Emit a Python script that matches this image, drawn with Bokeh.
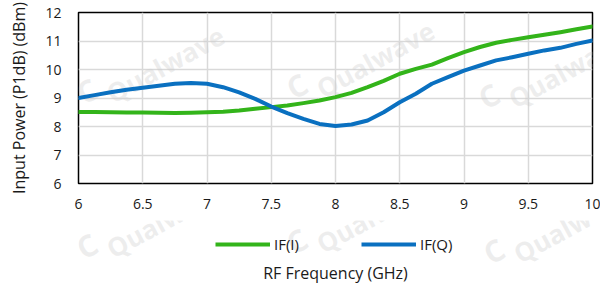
from bokeh.plotting import figure
from bokeh.models import Range1d, FixedTicker, Legend, LegendItem, Label
from bokeh.layouts import column
from bokeh.embed import file_html
from bokeh.resources import INLINE

freq = [6, 6.125, 6.25, 6.375, 6.5, 6.625, 6.75, 6.875, 7, 7.125, 7.25, 7.375, 7.5, 7.625,
        7.75, 7.875, 8, 8.125, 8.25, 8.375, 8.5, 8.625, 8.75, 8.875, 9, 9.125, 9.25, 9.375,
        9.5, 9.625, 9.75, 9.875, 10]
if_i = [8.51, 8.51, 8.5, 8.49, 8.49, 8.48, 8.47, 8.48, 8.5, 8.52, 8.56, 8.62, 8.68, 8.74,
        8.82, 8.91, 9.03, 9.18, 9.38, 9.6, 9.85, 10.02, 10.17, 10.4, 10.61, 10.79, 10.94, 11.04,
        11.13, 11.22, 11.31, 11.41, 11.51]
if_q = [9.0, 9.1, 9.2, 9.29, 9.36, 9.43, 9.5, 9.53, 9.5, 9.38, 9.2, 8.97, 8.7, 8.47,
        8.27, 8.09, 8.02, 8.07, 8.21, 8.5, 8.85, 9.15, 9.5, 9.73, 9.96, 10.14, 10.32, 10.43,
        10.55, 10.67, 10.76, 10.9, 11.02]
x_ticks = [6, 6.5, 7, 7.5, 8, 8.5, 9, 9.5, 10]
x_tick_labels = ["6", "6.5", "7", "7.5", "8", "8.5", "9", "9.5", "10"]
y_ticks = [6, 7, 8, 9, 10, 11, 12]
series_names = ["IF(I)", "IF(Q)"]
x_title = "RF Frequency (GHz)"
y_title = "Input Power (P1dB) (dBm)"

FONT = "Open Sans"
TXT = "#1a1a1a"
GREEN = "#33B41A"
BLUE = "#0A70C0"
W = 600
H1 = 220
H2 = 71

p = figure(width=W, height=H1, output_backend="svg", toolbar_location=None,
           x_range=Range1d(6, 10), y_range=Range1d(6, 12),
           min_border_left=78, min_border_right=8, min_border_top=12, min_border_bottom=37)
p.background_fill_color = "white"
p.border_fill_color = "white"
p.outline_line_color = "black"
p.outline_line_width = 1.5

for ax in (p.xaxis[0], p.yaxis[0]):
    ax.axis_line_color = None
    ax.major_tick_line_color = None
    ax.minor_tick_line_color = None
    ax.major_label_text_font = FONT
    ax.major_label_text_font_size = "14px"
    ax.major_label_text_color = TXT
    ax.axis_label_text_font = FONT
    ax.axis_label_text_font_size = "16px"
    ax.axis_label_text_font_style = "normal"
    ax.axis_label_text_color = TXT

p.xaxis.ticker = FixedTicker(ticks=x_ticks)
p.xaxis.major_label_overrides = {t: s for t, s in zip(x_ticks, x_tick_labels)}
p.yaxis.ticker = FixedTicker(ticks=y_ticks)
p.xaxis.major_label_standoff = 9
p.yaxis.major_label_standoff = 11
p.yaxis.axis_label = y_title
p.yaxis.axis_label_standoff = 12

p.xgrid.grid_line_color = "#d9d9d9"
p.ygrid.grid_line_color = "#d9d9d9"
p.xgrid.grid_line_width = 1.5
p.ygrid.grid_line_width = 1.5


def watermark(fig, x, y, sx):
    # x, y: logo position in fig data coords; sx: data units per pixel along x
    fig.add_layout(Label(x=x + 20 * sx, y=y, text="Qualwave", angle=0.5,
                         text_font=FONT, text_font_size="26px", text_font_style="bold",
                         text_color="#cccccc", text_alpha=0.35, text_baseline="middle",
                         level="underlay"))
    fig.add_layout(Label(x=x - 10 * sx, y=y, text="C", angle=0.5,
                         text_font=FONT, text_font_size="30px", text_font_style="bold",
                         text_color="#cccccc", text_alpha=0.35, text_baseline="middle",
                         level="underlay"))


for lx, ly in [(88, 95), (298, 90), (490, 100)]:
    watermark(p, 6 + (lx - 78) / 128.5, 12 - (ly - 12) / 28.5, 1 / 128.5)

r1 = p.line(freq, if_i, line_color=GREEN, line_width=4, line_join="round", line_cap="round")
r2 = p.line(freq, if_q, line_color=BLUE, line_width=4, line_join="round", line_cap="round")

# lower strip: legend + x-axis title (coordinates: page pixels, y measured up from bottom)
p2 = figure(width=W, height=H2, output_backend="svg", toolbar_location=None,
            x_range=Range1d(78, W - 8), y_range=Range1d(0, H2),
            x_axis_type=None, y_axis_type=None,
            min_border_left=78, min_border_right=8, min_border_top=0, min_border_bottom=0)
p2.grid.visible = False
p2.outline_line_color = None
p2.background_fill_color = "white"
p2.border_fill_color = "white"

BOT = H1 + H2
for lx, ly in [(88, 250), (298, 245), (495, 255)]:
    watermark(p2, lx, BOT - ly, 1)

l1 = p2.line([-100, -90], [-100, -100], line_color=GREEN, line_width=4)
l2 = p2.line([-100, -90], [-100, -100], line_color=BLUE, line_width=4)
legend = Legend(items=[LegendItem(label=series_names[0], renderers=[l1]),
                       LegendItem(label=series_names[1], renderers=[l2])],
                location=(137, 37), orientation="horizontal",
                glyph_width=55, glyph_height=18, label_height=18, label_standoff=4, spacing=62,
                padding=0, margin=0, border_line_color=None, background_fill_alpha=0,
                label_text_font=FONT, label_text_font_size="15px", label_text_color=TXT)
p2.add_layout(legend, "center")

p2.add_layout(Label(x=335, y=BOT - 272, text=x_title, text_align="center",
                    text_baseline="middle", text_font=FONT, text_font_size="16px",
                    text_color=TXT))

layout = column(p, p2, spacing=0)
open("out.html", "w").write(file_html(layout, INLINE))
